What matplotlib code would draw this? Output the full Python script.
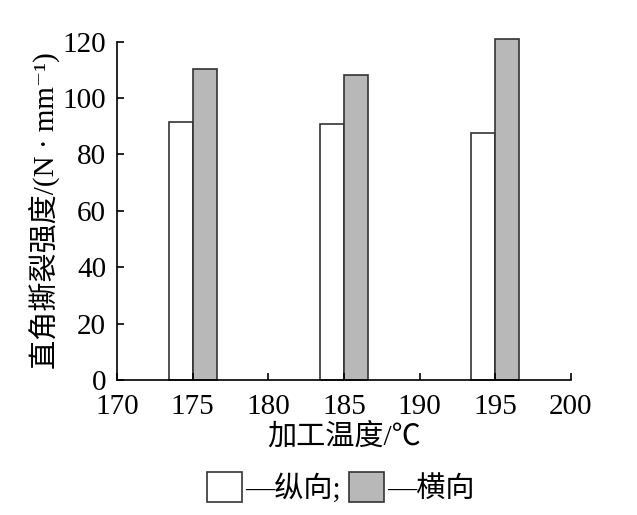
import matplotlib
matplotlib.use("Agg")
import matplotlib.pyplot as plt
from matplotlib.patches import Patch

plt.rcParams['font.family'] = ['Liberation Serif', 'Noto Sans CJK SC', 'DejaVu Serif']

temps = [175, 185, 195]
longitudinal = [91.6, 90.7, 87.5]   # 纵向
transverse = [110.2, 108.2, 121.0]  # 横向
xticks = [170, 175, 180, 185, 190, 195, 200]
yticks = [0, 20, 40, 60, 80, 100, 120]

fig = plt.figure(figsize=(6.37, 5.15), dpi=100)
ax = fig.add_axes([0.184, 0.262, 0.712, 0.657])

w = 1.6
ax.bar([t - w / 2 for t in temps], longitudinal, width=w, color='white',
       edgecolor='#333333', linewidth=1.2, clip_on=False)
ax.bar([t + w / 2 for t in temps], transverse, width=w, color='#b8b8b8',
       edgecolor='#333333', linewidth=1.2, clip_on=False)

ax.set_xlim(170, 200)
ax.set_ylim(0, 120)
ax.set_xticks(xticks)
ax.set_yticks(yticks)
ax.tick_params(direction='in', labelsize=21, length=5, width=1.2)
ax.tick_params(axis='x', pad=10)
ax.tick_params(axis='y', pad=8)
for s in ['top', 'right']:
    ax.spines[s].set_visible(False)
for s in ['left', 'bottom']:
    ax.spines[s].set_linewidth(1.2)

ax.set_xlabel('加工温度/℃', fontsize=21, labelpad=2)
ax.set_ylabel('直角撕裂强度/(N · mm⁻¹)', fontsize=21, labelpad=2)

handles = [Patch(facecolor='white', edgecolor='#333333', linewidth=1.2),
           Patch(facecolor='#b8b8b8', edgecolor='#333333', linewidth=1.2)]
fig.legend(handles, ['—纵向;', '—横向'], loc='center', bbox_to_anchor=(0.535, 0.053),
           ncol=2, frameon=False, fontsize=21, handlelength=1.2, handleheight=1.2,
           handletextpad=0.1, columnspacing=0.3)

fig.savefig('out.png', dpi=100)
